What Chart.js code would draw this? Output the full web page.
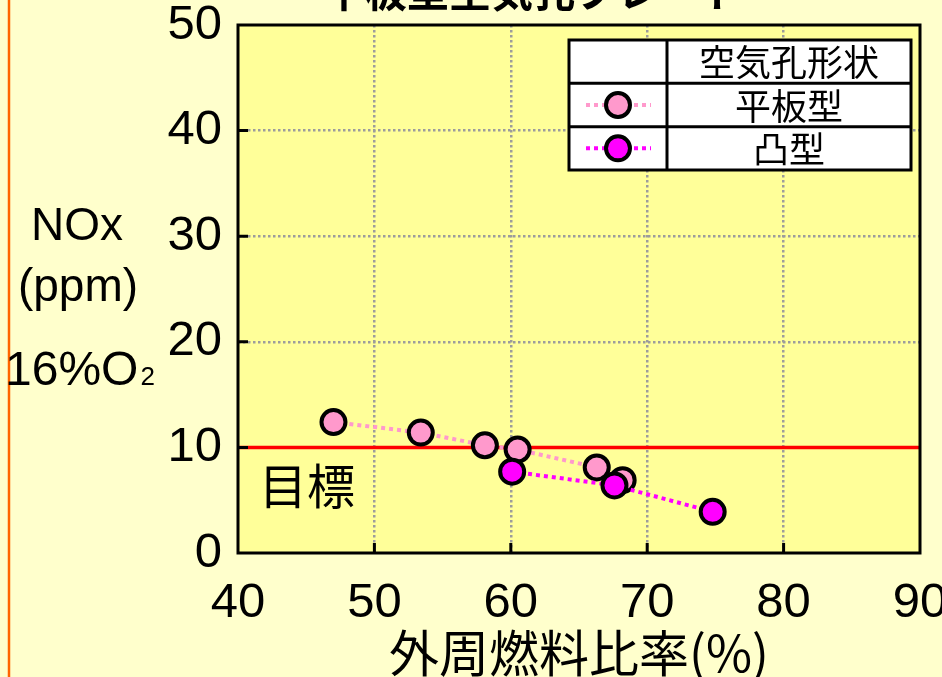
<!DOCTYPE html>
<html>
<head>
<meta charset="utf-8">
<script src="https://cdn.jsdelivr.net/npm/chart.js@4/dist/chart.umd.min.js"></script>
<style>
  html, body { margin: 0; padding: 0; background: #FFFFCC; }
  #wrap { width: 942px; height: 677px; position: relative; overflow: hidden; }
  canvas { display: block; }
</style>
</head>
<body>
<div id="wrap"><canvas id="chart" width="942" height="677"></canvas></div>
<script>
// ---- data ----
const chartTitle = '平板型空気孔プレート';
const xAxisTitle = '外周燃料比率(%)';
const yAxisTitle = ['NOx', '(ppm)', '16%O', '2'];
const legendHeader = '空気孔形状';
const seriesNames = ['平板型', '凸型'];
const xTicks = [40, 50, 60, 70, 80, 90];
const yTicks = [0, 10, 20, 30, 40, 50];

// 平板型 (flat plate)
const flatRatio = [47.0, 53.4, 58.1, 60.5, 66.3, 68.2];
const flatNox   = [12.4, 11.4, 10.2, 9.8, 8.1, 6.9];
// 凸型 (convex)
const convexRatio = [60.1, 67.6, 74.8];
const convexNox   = [7.7, 6.4, 3.9];

// target level
const targetNox = 10;
const targetLabel = '目標';

// ---- style ----
const JP = "'Noto Sans CJK JP', 'Noto Sans', sans-serif";
const NUM = "'Liberation Sans', Arial, sans-serif";
const LAT = "'Liberation Sans', Arial, sans-serif";
const PINK = '#FF99CC';
const MAGENTA = '#FF00FF';
const PAGE_BG = '#FFFFCC';
const PLOT_BG = '#FFFF99';
const MARKER_R = 12;
const MARKER_BW = 4;

const toPoints = (xs, ys) => xs.map((x, i) => ({ x, y: ys[i] }));

const decor = {
  id: 'decor',
  beforeDraw(chart) {
    const { ctx, chartArea: a } = chart;
    ctx.save();
    ctx.fillStyle = PAGE_BG;
    ctx.fillRect(0, 0, chart.width, chart.height);
    ctx.strokeStyle = '#FF6600';
    ctx.lineWidth = 2.5;
    ctx.beginPath();
    ctx.moveTo(9, 0);
    ctx.lineTo(9, chart.height);
    ctx.stroke();
    ctx.fillStyle = PLOT_BG;
    ctx.fillRect(a.left, a.top, a.right - a.left, a.bottom - a.top);
    ctx.restore();
  },
  afterDraw(chart) {
    const { ctx, chartArea: a, scales } = chart;
    const xs = scales.x, ys = scales.y;
    ctx.save();

    // inward tick marks
    ctx.strokeStyle = '#000';
    ctx.lineWidth = 3;
    ctx.beginPath();
    xTicks.slice(1, -1).forEach(v => {
      const px = xs.getPixelForValue(v);
      ctx.moveTo(px, a.bottom);
      ctx.lineTo(px, a.bottom - 10);
    });
    yTicks.slice(1, -1).forEach(v => {
      const py = ys.getPixelForValue(v);
      ctx.moveTo(a.left, py);
      ctx.lineTo(a.left + 10, py);
    });
    ctx.stroke();

    // plot frame
    ctx.lineWidth = 3;
    ctx.strokeRect(a.left, a.top, a.right - a.left, a.bottom - a.top);

    // title (runs off the top edge)
    ctx.fillStyle = '#000';
    ctx.font = `bold 42px ${JP}`;
    ctx.textAlign = 'center';
    ctx.textBaseline = 'bottom';
    ctx.fillText(chartTitle, 533, 12);

    // x axis title
    ctx.font = `50px ${JP}`;
    ctx.textBaseline = 'top';
    ctx.fillText(xAxisTitle, (a.left + a.right) / 2, 628);

    // y axis title
    ctx.textBaseline = 'alphabetic';
    ctx.font = `46px ${LAT}`;
    ctx.fillText(yAxisTitle[0], 77, 240);
    ctx.fillText(yAxisTitle[1], 78, 301);
    ctx.font = `48px ${LAT}`;
    ctx.textAlign = 'left';
    ctx.fillText(yAxisTitle[2], 5, 385);
    const w = ctx.measureText(yAxisTitle[2]).width;
    ctx.font = `26px ${LAT}`;
    ctx.fillText(yAxisTitle[3], 5 + w + 2, 385);

    // target label
    ctx.font = `48px ${JP}`;
    ctx.textBaseline = 'middle';
    ctx.fillText(targetLabel, a.left + 21, 486);

    // legend table
    const L = 569, R = 911, T = 40, B = 170, C = 667;
    const rows = [T, T + (B - T) / 3, T + 2 * (B - T) / 3, B];
    ctx.fillStyle = '#FFFFFF';
    ctx.fillRect(L, T, R - L, B - T);
    ctx.strokeStyle = '#000';
    ctx.lineWidth = 3;
    ctx.strokeRect(L, T, R - L, B - T);
    ctx.beginPath();
    ctx.moveTo(C, T); ctx.lineTo(C, B);
    ctx.moveTo(L, rows[1]); ctx.lineTo(R, rows[1]);
    ctx.moveTo(L, rows[2]); ctx.lineTo(R, rows[2]);
    ctx.stroke();

    ctx.fillStyle = '#000';
    ctx.font = `36px ${JP}`;
    ctx.textAlign = 'center';
    ctx.textBaseline = 'middle';
    const cx = (C + R) / 2;
    ctx.fillText(legendHeader, cx, (rows[0] + rows[1]) / 2 + 1);

    chart.data.datasets.slice(0, 2).forEach((ds, i) => {
      const yMid = (rows[i + 1] + rows[i + 2]) / 2;
      ctx.save();
      ctx.strokeStyle = ds.borderColor;
      ctx.lineWidth = 4;
      ctx.setLineDash(ds.borderDash);
      ctx.beginPath();
      ctx.moveTo(586, yMid);
      ctx.lineTo(651, yMid);
      ctx.stroke();
      ctx.restore();
      ctx.beginPath();
      ctx.arc(618, yMid, MARKER_R, 0, Math.PI * 2);
      ctx.fillStyle = ds.pointBackgroundColor;
      ctx.fill();
      ctx.lineWidth = MARKER_BW;
      ctx.strokeStyle = '#000';
      ctx.stroke();
      ctx.fillStyle = '#000';
      ctx.fillText(ds.label, cx, yMid + 1);
    });

    ctx.restore();
  }
};

// grid lines only inside the frame, not on its edges
const gridColor = (ctx) => {
  const n = ctx.scale ? ctx.scale.ticks.length : 0;
  return (ctx.index === 0 || ctx.index === n - 1) ? 'rgba(0,0,0,0)' : '#9C9C9C';
};

new Chart(document.getElementById('chart'), {
  type: 'scatter',
  data: {
    datasets: [
      {
        label: seriesNames[0],
        data: toPoints(flatRatio, flatNox),
        showLine: true,
        borderColor: PINK,
        borderWidth: 4,
        borderDash: [4, 4],
        pointBackgroundColor: PINK,
        pointBorderColor: '#000',
        pointBorderWidth: MARKER_BW,
        pointRadius: MARKER_R,
        pointHoverRadius: MARKER_R,
        order: 2
      },
      {
        label: seriesNames[1],
        data: toPoints(convexRatio, convexNox),
        showLine: true,
        borderColor: MAGENTA,
        borderWidth: 4,
        borderDash: [4, 4],
        pointBackgroundColor: MAGENTA,
        pointBorderColor: '#000',
        pointBorderWidth: MARKER_BW,
        pointRadius: MARKER_R,
        pointHoverRadius: MARKER_R,
        order: 1
      },
      {
        label: targetLabel,
        data: [{ x: xTicks[0], y: targetNox }, { x: xTicks[xTicks.length - 1], y: targetNox }],
        showLine: true,
        borderColor: '#FF0000',
        borderWidth: 3.5,
        pointRadius: 0,
        pointHoverRadius: 0,
        order: 3
      }
    ]
  },
  options: {
    responsive: false,
    animation: false,
    devicePixelRatio: 1,
    layout: { padding: { top: 25, right: 22, left: 0, bottom: 0 } },
    plugins: { legend: { display: false }, tooltip: { enabled: false }, title: { display: false } },
    scales: {
      x: {
        type: 'linear',
        min: xTicks[0],
        max: xTicks[xTicks.length - 1],
        afterBuildTicks: (s) => { s.ticks = xTicks.map(v => ({ value: v })); },
        ticks: { color: '#000', font: { family: NUM, size: 49 }, padding: 21, maxRotation: 0, autoSkip: false },
        grid: { color: gridColor, lineWidth: 2.5, drawTicks: false },
        border: { display: false, dash: [2.5, 2.5] },
        afterFit: (s) => { s.height = 124; s.paddingLeft = 0; s.paddingRight = 0; }
      },
      y: {
        type: 'linear',
        min: yTicks[0],
        max: yTicks[yTicks.length - 1],
        afterBuildTicks: (s) => { s.ticks = yTicks.map(v => ({ value: v })); },
        ticks: { color: '#000', font: { family: NUM, size: 49 }, padding: 16, autoSkip: false },
        grid: { color: gridColor, lineWidth: 2.5, drawTicks: false },
        border: { display: false, dash: [2.5, 2.5] },
        afterFit: (s) => { s.width = 238; s.paddingTop = 0; s.paddingBottom = 0; }
      }
    }
  },
  plugins: [decor]
});
</script>
</body>
</html>
